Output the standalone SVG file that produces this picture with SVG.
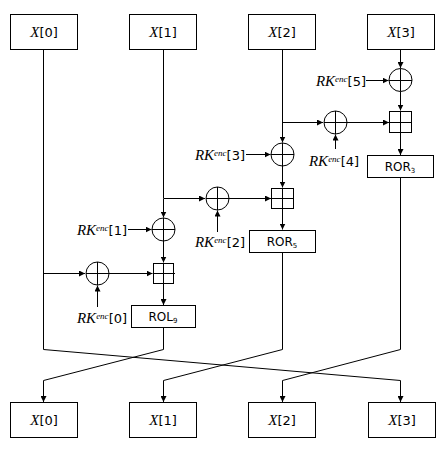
<svg xmlns="http://www.w3.org/2000/svg" width="446" height="451" viewBox="0 0 446 451">
<defs>
<marker id="ah" markerUnits="userSpaceOnUse" markerWidth="7" markerHeight="6" refX="6" refY="3" orient="auto">
<path d="M0,0 L6,3 L0,6 z" fill="#000"/>
</marker>
<style>
.box{fill:#fff;stroke:#000;stroke-width:1}
.ln{fill:none;stroke:#000;stroke-width:1}
.ar{fill:none;stroke:#000;stroke-width:1;marker-end:url(#ah)}
.xv{font-family:"Liberation Serif",serif;font-style:italic;font-size:15px}
.sn{font-family:"DejaVu Sans","Liberation Sans",sans-serif;font-size:13px}
.op{font-family:"DejaVu Sans","Liberation Sans",sans-serif;font-size:12px}
.sub{font-family:"DejaVu Sans","Liberation Sans",sans-serif;font-size:7px}
.sup{font-family:"Liberation Serif",serif;font-style:italic;font-size:9px}
.lbl{fill:#000}
</style>
</defs>
<rect width="446" height="451" fill="#fff"/>

<g id="connectors">
<path class="ar" d="M400.5,49 V68"/>
<path class="ar" d="M400.5,91.5 V110.5"/>
<path class="ar" d="M400.5,133 V155"/>
<path class="ar" d="M366,80.5 H388.5"/>
<path class="ln" d="M282.5,49 V123"/>
<path class="ar" d="M282.5,122.5 H323"/>
<path class="ar" d="M347,122.5 H389"/>
<path class="ar" d="M335.5,149 V134.5"/>
<path class="ar" d="M282.5,122.5 V142.5"/>
<path class="ar" d="M246,154.5 H270.5"/>
<path class="ar" d="M282.5,166 V187.5"/>
<path class="ar" d="M282.5,209 V229.5"/>
<path class="ln" d="M163.5,49 V198"/>
<path class="ar" d="M163.5,198.5 H205"/>
<path class="ar" d="M229,198.5 H271"/>
<path class="ar" d="M217.5,232 V210.5"/>
<path class="ar" d="M163.5,198.5 V217.5"/>
<path class="ar" d="M128,229.5 H151.5"/>
<path class="ar" d="M163.5,241 V262.5"/>
<path class="ar" d="M163.5,284 V305"/>
<path class="ar" d="M43.5,273.5 H85"/>
<path class="ar" d="M109,273.5 H152.5"/>
<path class="ar" d="M97.5,307 V285.5"/>
<path class="ar" d="M43.5,49 V349.5 L400.5,380.5 V402"/>
<path class="ar" d="M163.5,327 V349.5 L43.5,380.5 V402"/>
<path class="ar" d="M282.5,252 V349.5 L163.5,380.5 V402"/>
<path class="ar" d="M400.5,177 V349.5 L282.5,380.5 V402"/>
</g>

<g id="in0"><rect class="box" x="10.5" y="14.5" width="67" height="35"/><text x="44" y="37" text-anchor="middle" class="lbl"><tspan class="xv">X</tspan><tspan class="sn">[0]</tspan></text></g>
<g id="in1"><rect class="box" x="129.5" y="14.5" width="67" height="35"/><text x="163" y="37" text-anchor="middle" class="lbl"><tspan class="xv">X</tspan><tspan class="sn">[1]</tspan></text></g>
<g id="in2"><rect class="box" x="248.5" y="14.5" width="67" height="35"/><text x="282" y="37" text-anchor="middle" class="lbl"><tspan class="xv">X</tspan><tspan class="sn">[2]</tspan></text></g>
<g id="in3"><rect class="box" x="367.5" y="14.5" width="67" height="35"/><text x="401" y="37" text-anchor="middle" class="lbl"><tspan class="xv">X</tspan><tspan class="sn">[3]</tspan></text></g>

<g id="xor5"><circle class="ln" cx="400.5" cy="80" r="11.5"/><path class="ln" d="M389,80.5 H412 M400.5,68.5 V91.5"/></g>
<g id="rk5"><text x="366" y="86" text-anchor="end" class="lbl"><tspan class="xv">RK</tspan><tspan class="sup" dy="-4">enc</tspan><tspan class="sn" dy="4">[5]</tspan></text></g>
<g id="add3"><rect class="box" x="389.5" y="111.5" width="22" height="21"/><path class="ln" d="M389.5,122.5 H411.5 M400.5,111.5 V132.5"/></g>
<g id="xor4"><circle class="ln" cx="335.5" cy="122.5" r="11.5"/><path class="ln" d="M324,122.5 H347 M335.5,111 V134"/></g>
<g id="rk4"><text x="334" y="166" text-anchor="middle" class="lbl"><tspan class="xv">RK</tspan><tspan class="sup" dy="-4">enc</tspan><tspan class="sn" dy="4">[4]</tspan></text></g>
<g id="ror3"><rect class="box" x="367.5" y="155.5" width="66" height="22"/><text x="400" y="171" text-anchor="middle" class="lbl"><tspan class="op">ROR</tspan><tspan class="sub" dy="2">3</tspan></text></g>

<g id="xor3"><circle class="ln" cx="282.5" cy="154.5" r="11.5"/><path class="ln" d="M271,154.5 H294 M282.5,143 V166"/></g>
<g id="rk3"><text x="245" y="160" text-anchor="end" class="lbl"><tspan class="xv">RK</tspan><tspan class="sup" dy="-4">enc</tspan><tspan class="sn" dy="4">[3]</tspan></text></g>
<g id="add2"><rect class="box" x="271.5" y="188.5" width="22" height="20"/><path class="ln" d="M271.5,198.5 H293.5 M282.5,188.5 V208.5"/></g>
<g id="xor2"><circle class="ln" cx="217.5" cy="198.5" r="11.5"/><path class="ln" d="M206,198.5 H229 M217.5,187 V210"/></g>
<g id="rk2"><text x="220" y="247" text-anchor="middle" class="lbl"><tspan class="xv">RK</tspan><tspan class="sup" dy="-4">enc</tspan><tspan class="sn" dy="4">[2]</tspan></text></g>
<g id="ror5"><rect class="box" x="249.5" y="230.5" width="66" height="22"/><text x="282" y="246" text-anchor="middle" class="lbl"><tspan class="op">ROR</tspan><tspan class="sub" dy="2">5</tspan></text></g>

<g id="xor1"><circle class="ln" cx="163.5" cy="229.5" r="11.5"/><path class="ln" d="M152,229.5 H175 M163.5,218 V241"/></g>
<g id="rk1"><text x="127" y="235" text-anchor="end" class="lbl"><tspan class="xv">RK</tspan><tspan class="sup" dy="-4">enc</tspan><tspan class="sn" dy="4">[1]</tspan></text></g>
<g id="add1"><rect class="box" x="153.5" y="263.5" width="20" height="20"/><path class="ln" d="M153.5,273.5 H175 M163.5,263.5 V283.5"/></g>
<g id="xor0"><circle class="ln" cx="97.5" cy="273.5" r="11.5"/><path class="ln" d="M86,273.5 H109 M97.5,262 V285"/></g>
<g id="rk0"><text x="102" y="323" text-anchor="middle" class="lbl"><tspan class="xv">RK</tspan><tspan class="sup" dy="-4">enc</tspan><tspan class="sn" dy="4">[0]</tspan></text></g>
<g id="rol9"><rect class="box" x="131.5" y="305.5" width="64" height="22"/><text x="163" y="321" text-anchor="middle" class="lbl"><tspan class="op">ROL</tspan><tspan class="sub" dy="2">9</tspan></text></g>

<g id="out0"><rect class="box" x="10.5" y="402.5" width="67" height="35"/><text x="44" y="425" text-anchor="middle" class="lbl"><tspan class="xv">X</tspan><tspan class="sn">[0]</tspan></text></g>
<g id="out1"><rect class="box" x="129.5" y="402.5" width="67" height="35"/><text x="163" y="425" text-anchor="middle" class="lbl"><tspan class="xv">X</tspan><tspan class="sn">[1]</tspan></text></g>
<g id="out2"><rect class="box" x="248.5" y="402.5" width="67" height="35"/><text x="282" y="425" text-anchor="middle" class="lbl"><tspan class="xv">X</tspan><tspan class="sn">[2]</tspan></text></g>
<g id="out3"><rect class="box" x="368.5" y="402.5" width="67" height="35"/><text x="402" y="425" text-anchor="middle" class="lbl"><tspan class="xv">X</tspan><tspan class="sn">[3]</tspan></text></g>
</svg>
